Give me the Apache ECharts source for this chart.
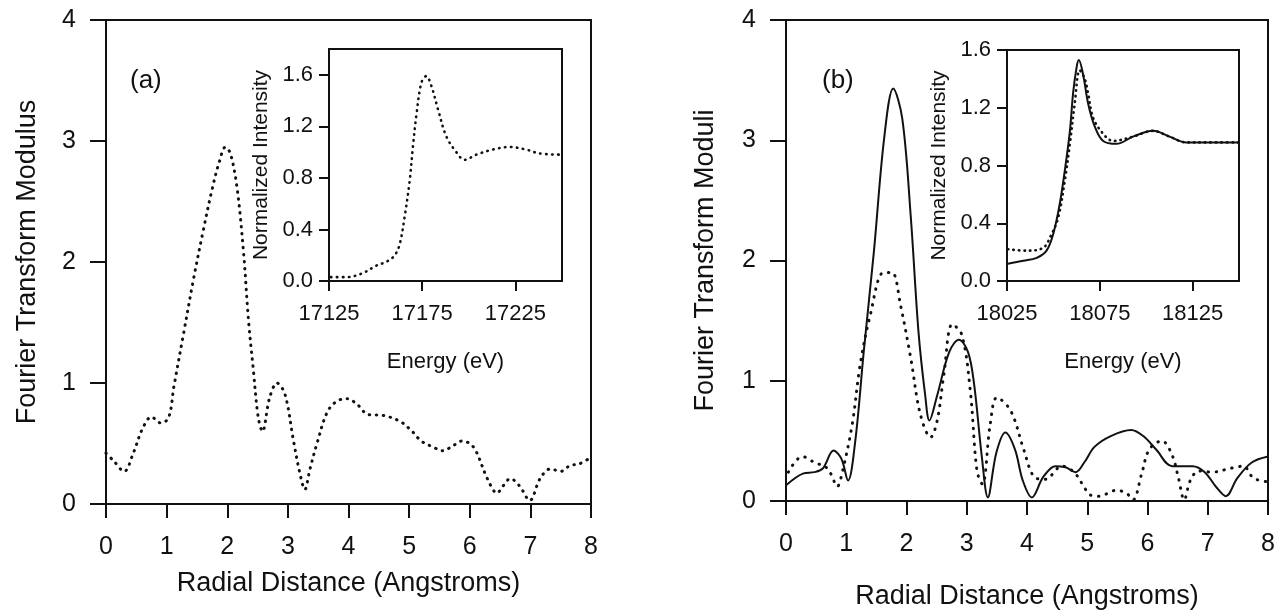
<!DOCTYPE html>
<html lang="en">

<head>
    <meta charset="UTF-8">
    <title>Fourier Transform Moduli</title>
    <script src="https://cdn.jsdelivr.net/npm/echarts@6/dist/echarts.min.js"></script>
    <style>
        html, body { margin: 0; padding: 0; background: #fff; }
    </style>
</head>

<body>
    <div id="main" style="width: 1281px;height:615px;"></div>
    <script>
        // (a) main panel: radial distance vs FT modulus
        var radialA = [0.0, 0.12, 0.3, 0.45, 0.6, 0.75, 0.9, 1.03, 1.12, 1.28,
            1.44, 1.6, 1.75, 1.87, 1.97, 2.05, 2.16, 2.27, 2.35, 2.43,
            2.51, 2.58, 2.7, 2.82, 2.95, 3.09, 3.2, 3.28, 3.36, 3.48,
            3.65, 3.81, 3.98, 4.15, 4.32, 4.59, 4.86, 5.05, 5.2, 5.4,
            5.55, 5.72, 5.87, 6.0, 6.1, 6.3, 6.45, 6.55, 6.67, 6.82,
            6.99, 7.16, 7.33, 7.5, 7.66, 7.8, 7.95];
        var ftA = [0.42, 0.36, 0.27, 0.42, 0.62, 0.72, 0.67, 0.71, 0.97, 1.41,
            1.85, 2.25, 2.60, 2.83, 2.95, 2.90, 2.62, 2.07, 1.52, 1.11,
            0.72, 0.60, 0.88, 1.00, 0.91, 0.53, 0.25, 0.12, 0.28, 0.50,
            0.76, 0.85, 0.87, 0.82, 0.74, 0.73, 0.68, 0.60, 0.52, 0.47,
            0.44, 0.48, 0.52, 0.50, 0.44, 0.20, 0.09, 0.15, 0.21, 0.15,
            0.03, 0.21, 0.29, 0.27, 0.32, 0.33, 0.37];

        // (a) inset: XANES
        var energyA = [17126, 17134.5, 17143, 17150.5, 17156, 17160.3, 17163, 17165.6, 17168.3, 17170,
            17172, 17174.6, 17177.2, 17180, 17183.5, 17188, 17193.3, 17197.7, 17204, 17213,
            17221.8, 17230.7, 17237.8, 17249];
        var xanesA = [0.03, 0.03, 0.06, 0.12, 0.15, 0.20, 0.29, 0.50, 0.78, 1.04,
            1.30, 1.54, 1.59, 1.51, 1.33, 1.12, 1.00, 0.94, 0.98, 1.02,
            1.04, 1.02, 0.99, 0.98];

        // (b) main panel, solid curve
        var radialBSolid = [0, 0.29, 0.47, 0.61, 0.79, 0.92, 1.03, 1.15, 1.29, 1.46,
            1.63, 1.78, 1.93, 2.07, 2.2, 2.31, 2.38, 2.51, 2.71, 2.87,
            3.02, 3.12, 3.25, 3.35, 3.49, 3.64, 3.8, 3.93, 4.08, 4.27,
            4.47, 4.64, 4.81, 4.95, 5.12, 5.39, 5.73, 5.93, 6.14, 6.41,
            6.75, 6.95, 7.15, 7.3, 7.49, 7.73, 8.0];
        var ftBSolid = [0.13, 0.23, 0.24, 0.27, 0.42, 0.35, 0.17, 0.50, 1.24, 2.08,
            3.02, 3.43, 3.18, 2.37, 1.40, 0.88, 0.67, 0.88, 1.24, 1.34,
            1.24, 0.98, 0.37, 0.03, 0.40, 0.57, 0.43, 0.17, 0.03, 0.20,
            0.29, 0.28, 0.24, 0.32, 0.45, 0.54, 0.59, 0.54, 0.43, 0.29,
            0.29, 0.24, 0.11, 0.04, 0.19, 0.32, 0.37];

        // (b) main panel, dotted curve
        var radialBDot = [0.04, 0.27, 0.51, 0.62, 0.74, 0.85, 0.93, 1.1, 1.23, 1.4,
            1.62, 1.76, 1.9, 2.07, 2.23, 2.4, 2.51, 2.62, 2.76, 2.92,
            3.06, 3.17, 3.26, 3.39, 3.5, 3.73, 3.95, 4.12, 4.3, 4.58,
            4.78, 4.92, 5.05, 5.19, 5.49, 5.66, 5.76, 5.9, 6.03, 6.24,
            6.41, 6.51, 6.61, 6.71, 6.85, 7.08, 7.36, 7.59, 7.76, 8.0];
        var ftBDot = [0.24, 0.37, 0.31, 0.30, 0.23, 0.12, 0.23, 0.64, 1.13, 1.55,
            1.90, 1.90, 1.63, 1.19, 0.72, 0.53, 0.67, 1.05, 1.47, 1.38,
            0.91, 0.25, 0.14, 0.64, 0.86, 0.75, 0.42, 0.20, 0.18, 0.29,
            0.24, 0.14, 0.05, 0.04, 0.09, 0.06, 0.01, 0.22, 0.43, 0.50,
            0.38, 0.20, 0.01, 0.17, 0.25, 0.24, 0.27, 0.29, 0.19, 0.16];

        // (b) inset
        var energyBSolid = [18025.5, 18033.8, 18041, 18046.3, 18050, 18053.5, 18056.2, 18058.9, 18060.6, 18062.5,
            18063.7, 18066, 18068.7, 18072.3, 18076.8, 18084, 18092.9, 18103.6, 18112.6, 18121.6,
            18137.7, 18149.5];
        var xanesBSolid = [0.12, 0.14, 0.16, 0.21, 0.33, 0.54, 0.77, 1.04, 1.30, 1.48,
            1.53, 1.43, 1.23, 1.07, 0.97, 0.95, 1.00, 1.04, 1.00, 0.96,
            0.96, 0.96];
        var energyBDot = [18025.5, 18035.6, 18044.5, 18048.5, 18052.6, 18056.2, 18058.9, 18061.5, 18064.2, 18066.9,
            18068.7, 18071.4, 18076.8, 18082.1, 18092.9, 18103.6, 18112.6, 18121.6, 18137.7, 18149.5];
        var xanesBDot = [0.22, 0.21, 0.23, 0.31, 0.44, 0.70, 0.95, 1.23, 1.46, 1.40,
            1.30, 1.13, 1.02, 0.97, 1.00, 1.04, 1.00, 0.96, 0.96, 0.96];

        var insetATicks = [17125, 17175, 17225];
        var insetBTicks = [18025, 18075, 18125];
        var insetYTicks = [0, 0.4, 0.8, 1.2, 1.6];

        function pairs(xs, ys) {
            return xs.map(function (x, i) { return [x, ys[i]]; });
        }

        var FONT = "'Liberation Sans', Arial, Helvetica, sans-serif";
        var black = '#111';

        function mainX(idx, nameGap) {
            return {
                gridIndex: idx, type: 'value', min: 0, max: 8, interval: 1,
                name: 'Radial Distance (Angstroms)', nameLocation: 'middle', nameGap: nameGap,
                nameTextStyle: { fontFamily: FONT, fontSize: 27, color: black },
                axisLine: { lineStyle: { color: black, width: 2 } },
                axisTick: { length: 14, lineStyle: { width: 2, color: black } },
                axisLabel: { margin: 31, fontFamily: FONT, fontSize: 25, color: black },
                splitLine: { show: false }
            };
        }
        function mainY(idx, name, nameGap) {
            return {
                gridIndex: idx, type: 'value', min: 0, max: 4, interval: 1,
                name: name, nameLocation: 'middle', nameGap: nameGap,
                nameTextStyle: { fontFamily: FONT, fontSize: 27, color: black },
                axisLine: { lineStyle: { color: black, width: 2 } },
                axisTick: { length: 16, lineStyle: { width: 2, color: black } },
                axisLabel: { margin: 30, fontFamily: FONT, fontSize: 25, color: black },
                splitLine: { show: false }
            };
        }
        function insetX(idx, min, max, ticks) {
            return {
                gridIndex: idx, type: 'value', min: min, max: max,
                name: 'Energy (eV)', nameLocation: 'middle', nameGap: 70,
                nameTextStyle: { fontFamily: FONT, fontSize: 22, color: black },
                axisLine: { lineStyle: { color: black, width: 2 } },
                axisTick: { length: 10, customValues: ticks, lineStyle: { width: 2, color: black } },
                axisLabel: {
                    margin: 22, customValues: ticks, fontFamily: FONT, fontSize: 22, color: black,
                    formatter: function (v) { return String(v); }
                },
                splitLine: { show: false }
            };
        }
        function insetY(idx, max) {
            return {
                gridIndex: idx, type: 'value', min: 0, max: max,
                name: 'Normalized Intensity', nameLocation: 'middle', nameGap: 57,
                nameTextStyle: { fontFamily: FONT, fontSize: 21, color: black },
                axisLine: { lineStyle: { color: black, width: 2 } },
                axisTick: { length: 10, customValues: insetYTicks, lineStyle: { width: 2, color: black } },
                axisLabel: {
                    margin: 16, customValues: insetYTicks, fontFamily: FONT, fontSize: 22, color: black,
                    formatter: function (v) { return v.toFixed(1); }
                },
                splitLine: { show: false }
            };
        }

        var myChart = echarts.init(document.getElementById('main'));

        var gridBox = { show: true, borderColor: black, borderWidth: 2, backgroundColor: '#fff' };

        var option = {
            animation: false,
            backgroundColor: '#fff',
            title: [
                { text: '(a)', left: 130, top: 68, padding: 0, textStyle: { fontFamily: FONT, fontSize: 26, fontWeight: 'normal', color: black } },
                { text: '(b)', left: 822, top: 68, padding: 0, textStyle: { fontFamily: FONT, fontSize: 26, fontWeight: 'normal', color: black } }
            ],
            grid: [
                Object.assign({ left: 106, top: 20, width: 485, height: 484 }, gridBox),
                Object.assign({ left: 329, top: 49, width: 233, height: 232 }, gridBox),
                Object.assign({ left: 786, top: 20, width: 482, height: 484 }, gridBox),
                Object.assign({ left: 1007, top: 50, width: 232, height: 231 }, gridBox)
            ],
            xAxis: [
                mainX(0, 66),
                insetX(1, 17125, 17250, insetATicks),
                mainX(2, 82),
                insetX(3, 18025, 18150, insetBTicks)
            ],
            yAxis: [
                mainY(0, 'Fourier Transform Modulus', 65),
                insetY(1, 1.8),
                mainY(2, 'Fourier Transform Moduli', 67),
                insetY(3, 1.6)
            ],
            series: [
                {
                    type: 'line', xAxisIndex: 0, yAxisIndex: 0, showSymbol: false, smooth: 0.35,
                    lineStyle: { color: black, width: 3, type: [0.5, 6.5], cap: 'round' },
                    data: pairs(radialA, ftA)
                },
                {
                    type: 'line', xAxisIndex: 1, yAxisIndex: 1, showSymbol: false, smooth: 0.35,
                    lineStyle: { color: black, width: 2.6, type: [0.5, 5.5], cap: 'round' },
                    data: pairs(energyA, xanesA)
                },
                {
                    type: 'line', xAxisIndex: 2, yAxisIndex: 2, showSymbol: false, smooth: 0.35,
                    lineStyle: { color: black, width: 3, type: [0.5, 7.5], cap: 'round' },
                    data: pairs(radialBDot, ftBDot)
                },
                {
                    type: 'line', xAxisIndex: 2, yAxisIndex: 2, showSymbol: false, smooth: 0.35,
                    lineStyle: { color: black, width: 2 },
                    data: pairs(radialBSolid, ftBSolid)
                },
                {
                    type: 'line', xAxisIndex: 3, yAxisIndex: 3, showSymbol: false, smooth: 0.35,
                    lineStyle: { color: black, width: 2.6, type: [0.5, 5], cap: 'round' },
                    data: pairs(energyBDot, xanesBDot)
                },
                {
                    type: 'line', xAxisIndex: 3, yAxisIndex: 3, showSymbol: false, smooth: 0.35,
                    lineStyle: { color: black, width: 2 },
                    data: pairs(energyBSolid, xanesBSolid)
                }
            ]
        };

        myChart.setOption(option);
    </script>
</body>

</html>
